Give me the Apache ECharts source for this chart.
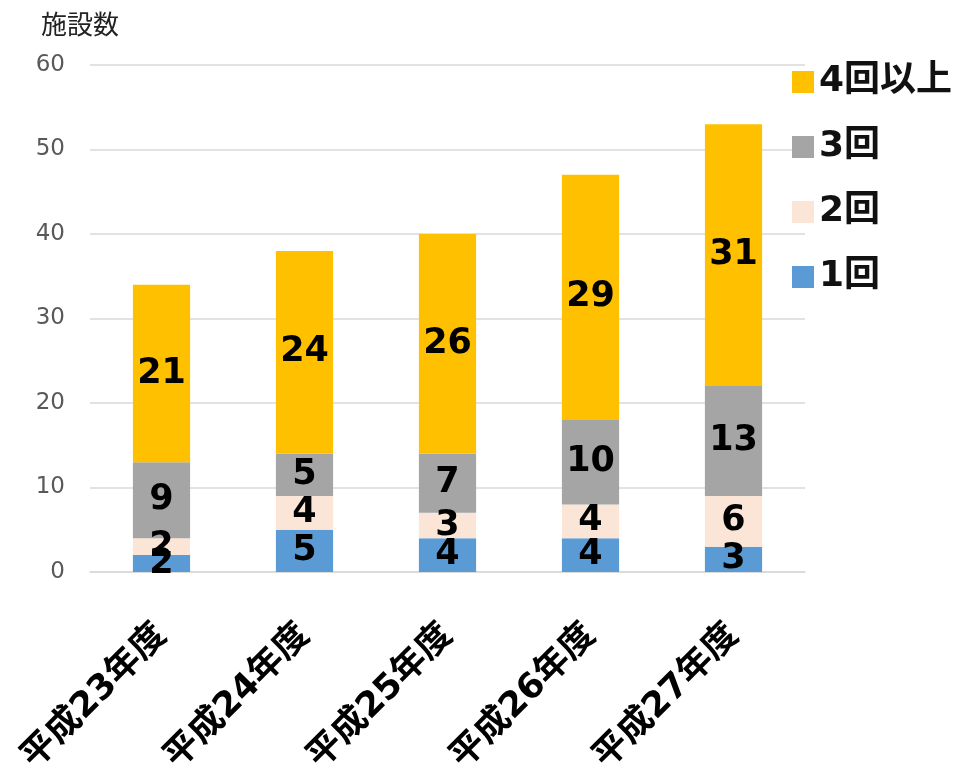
<!DOCTYPE html>
<html><head><meta charset="utf-8">
<script src="https://cdn.jsdelivr.net/npm/echarts@6/dist/echarts.min.js"></script>
<style>html,body{margin:0;padding:0;background:#fff}#c{width:961px;height:765px}</style>
</head><body><div id="c"></div>
<script>
var categories = ['平成23年度','平成24年度','平成25年度','平成26年度','平成27年度'];
var seriesNames = ['1回','2回','3回','4回以上'];
var once = [2,5,4,4,3];
var twice = [2,4,3,4,6];
var thrice = [9,5,7,10,13];
var fourPlus = [21,24,26,29,31];
var yTicks = {min:0,max:60,interval:10};
var colors = ['#5B9BD5','#FBE5D6','#A5A5A5','#FFC000'];
var values = [once,twice,thrice,fourPlus];
var FONT = '"DejaVu Sans", "Noto Sans CJK JP", sans-serif';
var chart = echarts.init(document.getElementById('c'));
chart.setOption({
  animation:false,
  textStyle:{fontFamily:FONT},
  title:{text:'施設数',left:36,top:6,textStyle:{fontFamily:'"Noto Sans CJK JP", sans-serif',fontSize:26,fontWeight:'normal',color:'#222'}},
  legend:{orient:'vertical',left:787,top:59,itemWidth:22,itemHeight:22,itemGap:29,
    data:seriesNames.slice().reverse(),icon:'rect',
    textStyle:{fontFamily:FONT,fontSize:36,fontWeight:'bold',color:'#111',lineHeight:36,padding:[0,0,0,0]}},
  grid:{left:90,right:156,top:65,bottom:193,containLabel:false,outerBoundsMode:'none'},
  xAxis:{type:'category',data:categories,
    axisLine:{lineStyle:{color:'#d9d9d9',width:1.5}},axisTick:{show:false},
    axisLabel:{rotate:45,fontSize:35,fontWeight:'bold',color:'#000',margin:58,fontFamily:FONT,interval:0}},
  yAxis:{type:'value',min:yTicks.min,max:yTicks.max,interval:yTicks.interval,
    axisLine:{show:false},axisTick:{show:false},
    splitLine:{lineStyle:{color:'#d9d9d9',width:1.5}},
    axisLabel:{fontSize:23,color:'#595959',margin:25,fontFamily:FONT}},
  series:seriesNames.map(function(n,i){return {
    name:n,type:'bar',stack:'a',barWidth:'40%',data:values[i],
    itemStyle:{color:colors[i]},
    label:{show:true,position:'inside',fontSize:35,fontWeight:'bold',color:'#000',fontFamily:FONT}
  };})
});
</script></body></html>
